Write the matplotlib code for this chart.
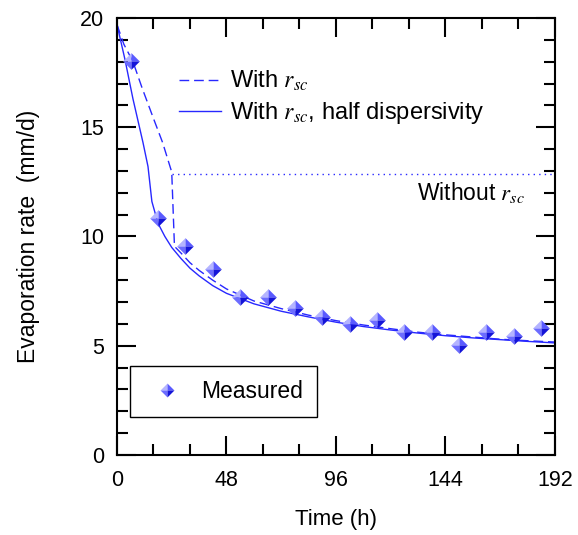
import matplotlib
matplotlib.use("Agg")
import matplotlib.pyplot as plt
from matplotlib.ticker import MultipleLocator
from matplotlib.lines import Line2D

plt.rcParams["font.family"] = ["Liberation Sans", "DejaVu Sans"]
plt.rcParams["mathtext.fontset"] = "stix"

BLUE = "#2828ff"

# measured evaporation rate
meas_t = [6, 18, 30, 42, 54, 66, 78, 90, 102, 114, 126, 138, 150, 162, 174, 186]
meas_e = [18.05, 10.85, 9.57, 8.5, 7.23, 7.23, 6.73, 6.32, 6.0, 6.18, 5.63, 5.63,
          5.03, 5.63, 5.45, 5.8]

# model with r_sc
rsc_t = [0, 3, 7, 11, 16, 20, 24, 25.2, 28, 32, 36, 42, 48, 60, 72, 84, 96, 108,
         120, 132, 144, 156, 168, 180, 192]
rsc_e = [19.7, 18.8, 18.0, 16.8, 15.4, 14.3, 12.95, 9.55, 9.25, 8.8, 8.45, 8.0,
         7.6, 7.05, 6.7, 6.4, 6.15, 5.95, 5.78, 5.62, 5.5, 5.4, 5.3, 5.23, 5.17]

# model with r_sc, half dispersivity
half_t = [0, 3.5, 7, 11.4, 13.6, 15.3, 18, 21, 24, 28, 32, 36, 42, 48, 60, 72, 84,
          96, 108, 120, 132, 144, 156, 168, 180, 192]
half_e = [19.7, 18.1, 16.3, 14.3, 13.2, 11.6, 10.6, 10.0, 9.5, 9.0, 8.55, 8.2,
          7.75, 7.4, 6.92, 6.58, 6.32, 6.08, 5.88, 5.72, 5.58, 5.46, 5.36, 5.28,
          5.2, 5.13]

# model without r_sc (constant)
no_rsc_t = [24, 192]
no_rsc_e = [12.85, 12.85]

# pyramid-shaded diamond: four faces
faces = [
    ([(0, 0), (-1, 0), (0, 1), (0, 0)], "#b4b4ff"),
    ([(0, 0), (0, 1), (1, 0), (0, 0)], "#5a5aff"),
    ([(0, 0), (-1, 0), (0, -1), (0, 0)], "#6c6cff"),
    ([(0, 0), (1, 0), (0, -1), (0, 0)], "#1414d8"),
]


def face_style(verts, color, size):
    return dict(marker=verts, markersize=size, linestyle="none",
                markerfacecolor=color, markeredgewidth=0)


fig = plt.figure(figsize=(5.78, 5.35), dpi=100)
ax = fig.add_axes([0.2024, 0.1495, 0.7576, 0.8169])

ax.plot(rsc_t, rsc_e, color=BLUE, lw=1.0, dashes=(7, 3.5))
ax.plot(half_t, half_e, color=BLUE, lw=1.0)
ax.plot(no_rsc_t, no_rsc_e, color=BLUE, lw=1.0, dashes=(1, 3))

for verts, color in faces:
    ax.plot(meas_t, meas_e, **face_style(verts, color, 12))

ax.text(179, 12.0, "Without $r_{sc}$", fontsize=16.5, ha="right", va="center")

ax.set_xlim(0, 192)
ax.set_ylim(0, 20)
ax.xaxis.set_major_locator(MultipleLocator(48))
ax.xaxis.set_minor_locator(MultipleLocator(16))
ax.yaxis.set_major_locator(MultipleLocator(5))
ax.yaxis.set_minor_locator(MultipleLocator(1))
ax.tick_params(which="both", direction="in", top=True, right=True, width=1.5,
               labelsize=15.5)
ax.tick_params(axis="y", pad=9)
ax.tick_params(axis="x", pad=11)
ax.tick_params(which="major", length=14)
ax.tick_params(which="minor", length=8)
for spine in ax.spines.values():
    spine.set_linewidth(1.5)

ax.set_xlabel("Time (h)", fontsize=16, labelpad=13)
ax.set_ylabel("Evaporation rate  (mm/d)", fontsize=16.5, labelpad=29)

line_handles = [
    Line2D([], [], color=BLUE, lw=1.0, dashes=(7, 3.5)),
    Line2D([], [], color=BLUE, lw=1.0),
]
leg1 = ax.legend(line_handles, ["With $r_{sc}$", "With $r_{sc}$, half dispersivity"],
                 loc="upper left", bbox_to_anchor=(0.12, 0.905), frameon=False,
                 fontsize=17, handlelength=1.8, handletextpad=0.35, labelspacing=0.3,
                 borderaxespad=0)
ax.add_artist(leg1)

meas_handle = tuple(Line2D([], [], **face_style(v, c, 10)) for v, c in faces)
leg2 = ax.legend([meas_handle], ["Measured"], loc="lower left",
                 bbox_to_anchor=(0.03, 0.087), fontsize=16.5, fancybox=False,
                 edgecolor="black", framealpha=1, borderpad=0.6, handletextpad=0.5,
                 borderaxespad=0)
leg2.get_frame().set_linewidth(1.0)

fig.savefig("out.png", dpi=100)
